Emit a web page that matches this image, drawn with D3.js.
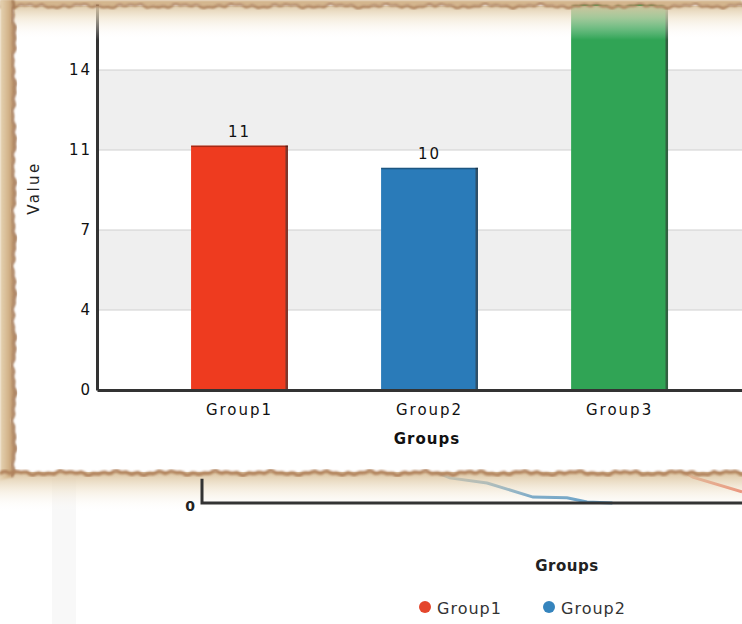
<!DOCTYPE html>
<html>
<head>
<meta charset="utf-8">
<script src="https://cdn.jsdelivr.net/npm/d3@7"></script>
<style>
  body { margin: 0; background: #fff; overflow: hidden; }
  svg { display: block; }
  text { font-family: "DejaVu Sans", Verdana, sans-serif; }
</style>
</head>
<body>
<script>
// main chart data
const groups = ["Group1", "Group2", "Group3"];
const values = [11, 10, 18];
const colors = ["#ee3b1f", "#2a7bb9", "#30a455"];
const yTicks = [0, 3.6, 7.2, 10.8, 14.4];
const yMax = 18;

// chart showing behind the torn paper
const bgLegend = ["Group1", "Group2"];
const bgColors = ["#e4462c", "#3584bd"];
const bgBlueX = [40, 45.9, 52.8, 61.3, 67.6, 71.3, 76];
const bgBlueY = [1.4, 0.93, 0.74, 0.22, 0.19, 0.04, 0];
const bgRedX = [88, 90.9, 100];
const bgRedY = [1.3, 0.96, 0.41];

const W = 742, H = 624;
const svg = d3.select("body").append("svg").attr("width", W).attr("height", H);
const defs = svg.append("defs");

// small wobble for the torn edges (decoration only)
function jag(i) {
    return Math.sin(i * 1.7) * 0.9 + Math.sin(i * 0.37 + 1) * 1.2 + Math.sin(i * 5.3) * 0.6;
}

function grad(id, x2, y2, stops) {
    const g = defs.append("linearGradient").attr("id", id)
        .attr("x1", 0).attr("y1", 0).attr("x2", x2).attr("y2", y2);
    stops.forEach(s => g.append("stop").attr("offset", s[0]).attr("stop-color", s[1]).attr("stop-opacity", s[2]));
}
grad("topShade", 0, 1, [[0, "#dcc6a2", 0.9], [0.35, "#eee0c6", 0.6], [1, "#ffffff", 0]]);
grad("botShade", 0, 1, [[0, "#d9c09a", 0.95], [0.45, "#efe2ca", 0.55], [1, "#ffffff", 0]]);
grad("leftEdge", 1, 0, [[0, "#e6d3b3", 1], [0.55, "#d2b288", 1], [1, "#a77a56", 1]]);
defs.append("filter").attr("id", "soft").append("feGaussianBlur").attr("stdDeviation", 0.9);
defs.append("clipPath").attr("id", "paperClip").append("rect")
    .attr("x", 16).attr("y", 4).attr("width", W).attr("height", 468);

// ---------- background chart ----------
const bg = svg.append("g");
bg.append("rect").attr("x", 52).attr("y", 478).attr("width", 24).attr("height", H - 478).attr("fill", "#f8f8f8");

const bx = d3.scaleLinear().domain([0, 100]).range([202, 742]);
const by = d3.scaleLinear().domain([0, 10]).range([503, 233]);
const line = d3.line().x(d => bx(d[0])).y(d => by(d[1]));

bg.append("path").datum(d3.zip(bgBlueX, bgBlueY)).attr("d", line)
    .attr("fill", "none").attr("stroke", bgColors[1]).attr("stroke-width", 3);
bg.append("path").datum(d3.zip(bgRedX, bgRedY)).attr("d", line)
    .attr("fill", "none").attr("stroke", bgColors[0]).attr("stroke-width", 3);

// bottom shadow of the paper on the page behind it
bg.append("rect").attr("x", 0).attr("y", 472).attr("width", W).attr("height", 40).attr("fill", "url(#botShade)");

bg.append("path").attr("d", `M${bx(0)},${by(0.9)}V${by(0)}H${W}`)
    .attr("fill", "none").attr("stroke", "#333").attr("stroke-width", 3);
bg.append("text").attr("x", bx(0) - 7).attr("y", by(0) + 8).attr("text-anchor", "end")
    .attr("font-size", 14).attr("font-weight", "bold").attr("fill", "#222").text("0");

bg.append("text").attr("x", 567).attr("y", 571).attr("text-anchor", "middle")
    .attr("font-size", 15).attr("font-weight", "bold").attr("fill", "#222").attr("letter-spacing", 0.5)
    .text("Groups");

const leg = bg.selectAll("g.leg").data(bgLegend).join("g").attr("class", "leg")
    .attr("transform", (d, i) => `translate(${425 + i * 124},607)`);
leg.append("circle").attr("r", 6).attr("fill", (d, i) => bgColors[i]);
leg.append("text").attr("x", 12).attr("y", 7).attr("font-size", 16).attr("fill", "#333")
    .attr("letter-spacing", 1).text(d => d);

// ---------- paper ----------
svg.append("rect").attr("x", 14).attr("y", 4).attr("width", W).attr("height", 468).attr("fill", "#fff");

const main = svg.append("g").attr("clip-path", "url(#paperClip)");

const x = d3.scaleBand().domain(groups).range([97, 859])
    .paddingInner(0.49).paddingOuter(0.75).align(0.33);
const y = d3.scaleLinear().domain([0, yMax]).range([390, -10]);

// alternating bands
const edges = yTicks.concat([yMax]);
main.selectAll("rect.band").data(d3.pairs(edges)).join("rect").attr("class", "band")
    .attr("x", 97).attr("width", W)
    .attr("y", d => y(d[1])).attr("height", d => y(d[0]) - y(d[1]))
    .attr("fill", (d, i) => i % 2 ? "#efefef" : "#fff");
main.selectAll("line.grid").data(yTicks.slice(1)).join("line").attr("class", "grid")
    .attr("x1", 97).attr("x2", W).attr("y1", d => y(d)).attr("y2", d => y(d))
    .attr("stroke", "#d0d0d0");

// bars
const bars = main.selectAll("g.bar").data(groups).join("g").attr("class", "bar");
bars.append("rect")
    .attr("x", d => x(d)).attr("width", x.bandwidth())
    .attr("y", (d, i) => y(values[i])).attr("height", (d, i) => y(0) - y(values[i]))
    .attr("fill", (d, i) => colors[i]);
bars.append("rect")
    .attr("x", d => x(d) + x.bandwidth() - 2.5).attr("width", 2.5)
    .attr("y", (d, i) => y(values[i])).attr("height", (d, i) => y(0) - y(values[i]))
    .attr("fill", "#333").attr("opacity", 0.6);
bars.append("rect")
    .attr("x", d => x(d)).attr("width", x.bandwidth())
    .attr("y", (d, i) => y(values[i])).attr("height", 1.5)
    .attr("fill", "#000").attr("opacity", 0.3);
// value labels (the tallest bar's label falls off the torn top edge)
bars.filter((d, i) => y(values[i]) > 30).append("text")
    .attr("x", d => x(d) + x.bandwidth() / 2).attr("y", d => y(values[groups.indexOf(d)]) - 9)
    .attr("text-anchor", "middle").attr("font-size", 15).attr("fill", "#111").attr("letter-spacing", 2)
    .text(d => values[groups.indexOf(d)]);

// axes
const yAxis = main.append("g").attr("transform", "translate(97,0)")
    .call(d3.axisLeft(y).tickValues(yTicks).tickFormat(d3.format(".0f")).tickSize(0).tickPadding(5));
const xAxis = main.append("g").attr("transform", "translate(0,390)")
    .call(d3.axisBottom(x).tickSize(0).tickPadding(14));
[yAxis, xAxis].forEach(a => {
    a.select(".domain").attr("stroke", "#333").attr("stroke-width", 3);
    a.selectAll("text").attr("font-family", "DejaVu Sans").attr("font-size", 15)
        .attr("fill", "#111").attr("letter-spacing", 2);
});

main.append("text").attr("transform", "translate(39,188) rotate(-90)").attr("text-anchor", "middle")
    .attr("font-size", 15).attr("fill", "#222").attr("letter-spacing", 2.5).text("Value");
main.append("text").attr("x", 427).attr("y", 444).attr("text-anchor", "middle")
    .attr("font-size", 15).attr("font-weight", "bold").attr("fill", "#111").attr("letter-spacing", 1)
    .text("Groups");

// ---------- torn edges ----------
svg.append("rect").attr("x", 14).attr("y", 6).attr("width", W).attr("height", 34).attr("fill", "url(#topShade)");

const topPts = d3.range(0, W + 4, 3).map((v, i) => [v, 6 + jag(i)]);
svg.append("path")
    .attr("d", "M0,0" + topPts.map(p => "L" + p).join("") + `L${W},0Z`)
    .attr("fill", "#d4b68e").attr("filter", "url(#soft)");
svg.append("path").attr("d", d3.line()(topPts)).attr("fill", "none")
    .attr("stroke", "#a4744f").attr("stroke-width", 2).attr("filter", "url(#soft)");

const leftPts = d3.range(0, 480, 3).map((v, i) => [14 + jag(i + 40) * 0.9, v]);
svg.append("path")
    .attr("d", "M0,0" + leftPts.map(p => "L" + p).join("") + "L0,480Z")
    .attr("fill", "url(#leftEdge)").attr("filter", "url(#soft)");
svg.append("path").attr("d", d3.line()(leftPts)).attr("fill", "none")
    .attr("stroke", "#9d6f4c").attr("stroke-width", 2).attr("filter", "url(#soft)");

const botPts = d3.range(0, W + 4, 3).map((v, i) => [v, 473 + jag(i + 90)]);
svg.append("path").attr("d", d3.line()(botPts)).attr("fill", "none")
    .attr("stroke", "#b1825c").attr("stroke-width", 3.5).attr("filter", "url(#soft)");
</script>
</body>
</html>
